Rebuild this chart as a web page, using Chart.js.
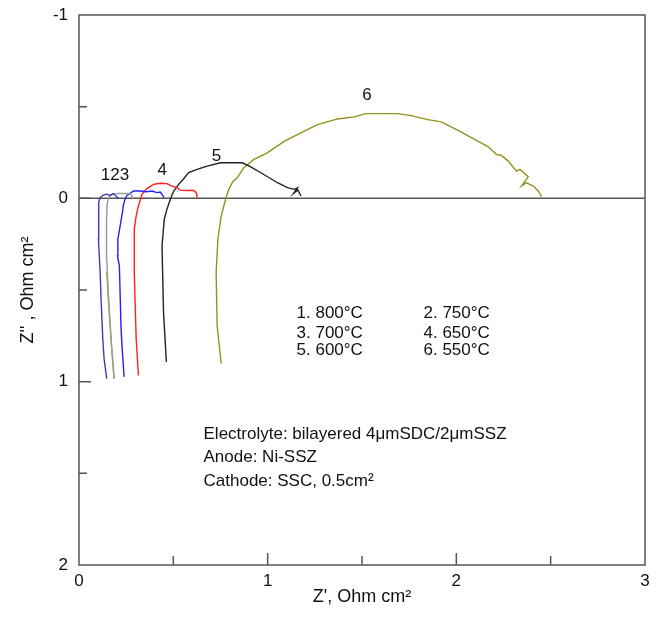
<!DOCTYPE html>
<html>
<head>
<meta charset="utf-8">
<script src="https://cdn.jsdelivr.net/npm/chart.js@4/dist/chart.umd.min.js"></script>
<style>
  body { margin: 0; background: #fff; }
</style>
</head>
<body>
<canvas id="nyquist-chart" width="660" height="624"></canvas>
<script>
// Z' (x) and Z'' (y) in Ohm cm2
let curve1 = [[0.147,0.984],[0.133,0.875],[0.126,0.766],[0.117,0.549],[0.112,0.402],[0.103,0.223],[0.103,0.06],
  [0.106,0.022],[0.112,-0.004],[0.129,-0.018],[0.147,-0.023],[0.165,-0.016],[0.182,-0.026],[0.2,-0.009],[0.209,0.002]];
let curve2 = [[0.186,0.984],[0.170,0.766],[0.154,0.495],[0.147,0.332],[0.146,0.114],[0.149,0.033],[0.156,-0.004],
  [0.174,-0.022],[0.209,-0.027],[0.245,-0.026],[0.271,-0.027],[0.289,0.002]];
let curve2tail = [[0.147,0.40],[0.160,0.62],[0.172,0.80],[0.186,0.984]];
let curve3 = [[0.239,0.974],[0.229,0.821],[0.223,0.712],[0.214,0.368],[0.204,0.314],[0.206,0.223],[0.230,0.078],
  [0.236,0.033],[0.245,0.002],[0.254,-0.016],[0.271,-0.027],[0.289,-0.040],[0.324,-0.040],[0.360,-0.036],
  [0.387,-0.040],[0.413,-0.031],[0.431,-0.034],[0.443,-0.016],[0.451,-0.004]];
let curve4 = [[0.315,0.966],[0.303,0.766],[0.293,0.404],[0.293,0.168],[0.303,0.096],[0.315,0.042],[0.334,-0.022],
  [0.360,-0.053],[0.395,-0.076],[0.431,-0.082],[0.466,-0.080],[0.493,-0.067],[0.520,-0.058],[0.537,-0.045],
  [0.573,-0.043],[0.608,-0.043],[0.622,-0.031],[0.626,-0.004]];
let curve5 = [[0.463,0.893],[0.448,0.621],[0.440,0.259],[0.452,0.114],[0.466,0.060],[0.484,0.005],[0.502,-0.040],
  [0.528,-0.076],[0.555,-0.107],[0.581,-0.140],[0.626,-0.158],[0.679,-0.176],[0.750,-0.194],[0.865,-0.194],
  [0.910,-0.172],[0.980,-0.130],[1.052,-0.085],[1.105,-0.058],[1.140,-0.049],[1.158,-0.057],[1.137,-0.027],
  [1.160,-0.046],[1.176,-0.013]];
let curve6 = [[0.754,0.902],[0.732,0.694],[0.727,0.404],[0.736,0.223],[0.754,0.096],[0.777,0.005],[0.794,-0.049],
  [0.815,-0.091],[0.839,-0.112],[0.874,-0.167],[0.927,-0.212],[0.998,-0.248],[1.087,-0.311],[1.176,-0.357],
  [1.264,-0.402],[1.371,-0.433],[1.459,-0.444],[1.521,-0.462],[1.690,-0.462],[1.761,-0.451],[1.849,-0.429],
  [1.920,-0.417],[2.009,-0.371],[2.097,-0.321],[2.169,-0.281],[2.213,-0.239],[2.239,-0.234],[2.275,-0.203],
  [2.319,-0.148],[2.337,-0.158],[2.381,-0.118],[2.346,-0.067],[2.372,-0.085],[2.408,-0.067],[2.434,-0.040],
  [2.452,-0.009]];

let xTicks = [0, 1, 2, 3];
let yTicks = [-1, 0, 1, 2];

// curve number labels (text, x, y)
let curveLabels = [['123', 0.191, -0.125], ['4', 0.441, -0.152], ['5', 0.729, -0.228], ['6', 1.527, -0.560]];
let tempLabels = [['1. 800°C', 1.153, 0.628], ['2. 750°C', 1.826, 0.628],
  ['3. 700°C', 1.153, 0.734], ['4. 650°C', 1.826, 0.734],
  ['5. 600°C', 1.153, 0.830], ['6. 550°C', 1.826, 0.830]];
let noteLines = ['Electrolyte: bilayered 4μmSDC/2μmSSZ', 'Anode: Ni-SSZ', 'Cathode: SSC, 0.5cm²'];
let noteY = [1.288, 1.415, 1.542];
let noteX = 0.660;

let font = '"Liberation Sans", Arial, sans-serif';

let toXY = function (pts) {
    return pts.map(p => ({x: p[0], y: p[1]}));
};

let line = function (pts, color) {
    return {
        data: toXY(pts),
        showLine: true,
        borderColor: color,
        backgroundColor: color,
        borderWidth: 1.4,
        pointRadius: 0,
        tension: 0
    };
};

let framePlugin = {
    id: 'frame',
    beforeDatasetsDraw(chart) {
        let c = chart.ctx, a = chart.chartArea;
        let ys = chart.scales.y;
        c.save();
        c.strokeStyle = '#555';
        c.lineWidth = 1.5;
        // zero line
        c.beginPath();
        c.moveTo(a.left, ys.getPixelForValue(0));
        c.lineTo(a.right, ys.getPixelForValue(0));
        c.stroke();
        c.restore();
    },
    afterDatasetsDraw(chart) {
        let c = chart.ctx, a = chart.chartArea;
        let xs = chart.scales.x, ys = chart.scales.y;
        c.save();
        c.strokeStyle = '#555';
        c.lineWidth = 1.5;
        c.strokeRect(a.left, a.top, a.right - a.left, a.bottom - a.top);
        c.beginPath();
        for (let v = 0.5; v < 3; v += 0.5) {
            let px = xs.getPixelForValue(v);
            let len = (v % 1 === 0) ? 12 : 9;
            c.moveTo(px, a.bottom);
            c.lineTo(px, a.bottom - len);
        }
        for (let v = -0.5; v < 2; v += 0.5) {
            let py = ys.getPixelForValue(v);
            let len = (v % 1 === 0) ? 12 : 8;
            c.moveTo(a.left, py);
            c.lineTo(a.left + len, py);
        }
        c.stroke();

        c.fillStyle = '#111';
        c.font = '17px ' + font;
        c.textBaseline = 'middle';
        c.textAlign = 'center';
        for (let l of curveLabels) {
            c.fillText(l[0], xs.getPixelForValue(l[1]), ys.getPixelForValue(l[2]));
        }
        c.textAlign = 'left';
        for (let l of tempLabels) {
            c.fillText(l[0], xs.getPixelForValue(l[1]), ys.getPixelForValue(l[2]));
        }
        for (let i = 0; i < noteLines.length; i++) {
            c.fillText(noteLines[i], xs.getPixelForValue(noteX), ys.getPixelForValue(noteY[i]));
        }
        c.restore();
    }
};

let ctx = document.getElementById('nyquist-chart').getContext('2d');

let chart = new Chart(ctx, {
    type: 'scatter',
    data: {
        datasets: [
            line(curve1, '#3c3caa'),
            line(curve2, '#9a9a9a'),
            line(curve2tail, '#a8a820'),
            line(curve3, '#2222ff'),
            line(curve4, '#ff2020'),
            line(curve5, '#222222'),
            line(curve6, '#929220')
        ]
    },
    options: {
        responsive: false,
        animation: false,
        layout: {padding: {top: 15, right: 15, left: 0, bottom: 0}},
        plugins: {legend: {display: false}, tooltip: {enabled: false}},
        scales: {
            x: {
                type: 'linear', min: 0, max: 3,
                afterBuildTicks: s => { s.ticks = xTicks.map(v => ({value: v})); },
                afterFit: s => { s.height = 59; s.paddingLeft = 0; s.paddingRight = 0; },
                grid: {display: false, drawTicks: false},
                border: {display: false},
                ticks: {color: '#111', padding: 6, font: {family: font, size: 17}},
                title: {display: true, text: "Z', Ohm cm²", color: '#111',
                    font: {family: font, size: 18}, padding: {top: 0, bottom: 16}}
            },
            y: {
                type: 'linear', min: -1, max: 2, reverse: true,
                afterBuildTicks: s => { s.ticks = yTicks.map(v => ({value: v})); },
                afterFit: s => { s.width = 79; s.paddingTop = 0; s.paddingBottom = 0; },
                grid: {display: false, drawTicks: false},
                border: {display: false},
                ticks: {color: '#111', padding: 11, font: {family: font, size: 17}},
                title: {display: true, text: "Z'' , Ohm cm²", color: '#111',
                    font: {family: font, size: 18}, padding: {top: 17, bottom: 0}}
            }
        }
    },
    plugins: [framePlugin]
});
</script>
</body>
</html>
